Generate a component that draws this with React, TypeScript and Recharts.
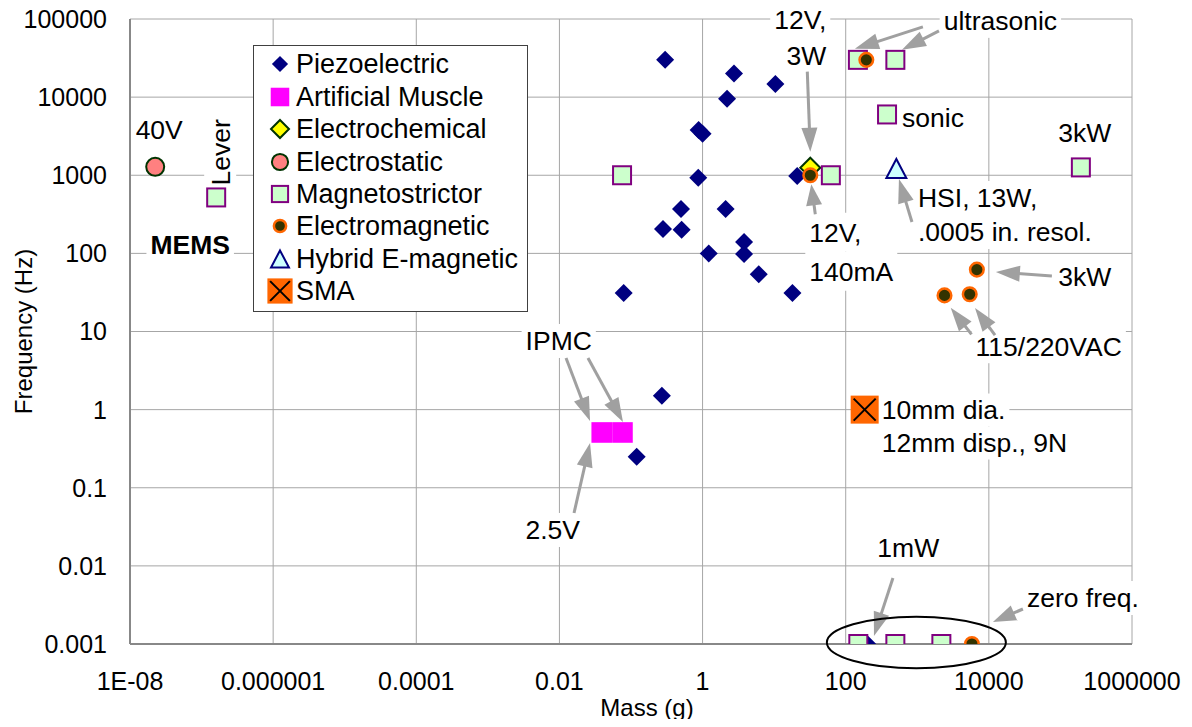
import React from "react";
import {
  ScatterChart,
  Scatter,
  XAxis,
  YAxis,
  CartesianGrid,
  Legend,
  ReferenceDot,
} from "recharts";

const FONT = '"Liberation Sans", Arial, Helvetica, sans-serif';

// mass (g) vs frequency (Hz)
const piezoelectric = [
  { mass: 0.3, freq: 30000 },
  { mass: 2.75, freq: 20000 },
  { mass: 10.4, freq: 14700 },
  { mass: 2.2, freq: 9500 },
  { mass: 0.88, freq: 3800 },
  { mass: 1.0, freq: 3400 },
  { mass: 0.87, freq: 930 },
  { mass: 21, freq: 980 },
  { mass: 0.5, freq: 370 },
  { mass: 2.1, freq: 370 },
  { mass: 0.28, freq: 205 },
  { mass: 0.51, freq: 200 },
  { mass: 3.8, freq: 140 },
  { mass: 1.22, freq: 100 },
  { mass: 3.8, freq: 98 },
  { mass: 6.1, freq: 54 },
  { mass: 0.079, freq: 31 },
  { mass: 18, freq: 31 },
  { mass: 0.27, freq: 1.5 },
  { mass: 0.12, freq: 0.25 },
  { mass: 200, freq: 0.001 },
];
const artificialMuscle = [
  { mass: 0.039, freq: 0.51 },
  { mass: 0.076, freq: 0.51 },
];
const electrochemical = [{ mass: 32, freq: 1250 }];
const electrostatic = [{ mass: 2.25e-8, freq: 1280 }];
const magnetostrictor = [
  { mass: 1.6e-7, freq: 520 },
  { mass: 0.075, freq: 1000 },
  { mass: 62, freq: 1000 },
  { mass: 148, freq: 30000 },
  { mass: 494, freq: 30000 },
  { mass: 378, freq: 6000 },
  { mass: 193000, freq: 1260 },
  { mass: 150, freq: 0.001 },
  { mass: 494, freq: 0.001 },
  { mass: 2170, freq: 0.001 },
];
const electromagnetic = [
  { mass: 194, freq: 30000 },
  { mass: 32, freq: 1000 },
  { mass: 6800, freq: 62 },
  { mass: 2400, freq: 29 },
  { mass: 5400, freq: 30 },
  { mass: 5800, freq: 0.001 },
];
const hybrid = [{ mass: 510, freq: 1220 }];
const sma = [{ mass: 184, freq: 1 }];

const xTicks = [1e-8, 1e-6, 1e-4, 1e-2, 1, 100, 1e4, 1e6];
const xTickLabels = ["1E-08", "0.000001", "0.0001", "0.01", "1", "100", "10000", "1000000"];
const yTicks = [0.001, 0.01, 0.1, 1, 10, 100, 1000, 10000, 100000];
const yTickLabels = ["0.001", "0.01", "0.1", "1", "10", "100", "1000", "10000", "100000"];

type Kind = "piezo" | "muscle" | "echem" | "estatic" | "magneto" | "emag" | "hybrid" | "sma";

const legendItems: { name: string; kind: Kind }[] = [
  { name: "Piezoelectric", kind: "piezo" },
  { name: "Artificial Muscle", kind: "muscle" },
  { name: "Electrochemical", kind: "echem" },
  { name: "Electrostatic", kind: "estatic" },
  { name: "Magnetostrictor", kind: "magneto" },
  { name: "Electromagnetic", kind: "emag" },
  { name: "Hybrid E-magnetic", kind: "hybrid" },
  { name: "SMA", kind: "sma" },
];

// text annotations, anchored on a data point, offsets in px
type Note = {
  at: [number, number];
  dx: number;
  dy: number;
  lines: string[];
  anchor?: "start" | "middle" | "end";
  gap?: number;
  bold?: boolean;
  rotate?: boolean;
};
const notes: Note[] = [
  { at: [2.25e-8, 1280], dx: 4, dy: -37, lines: ["40V"] },
  { at: [1.6e-7, 520], dx: 4, dy: -45, lines: ["Lever"], rotate: true, gap: 32 },
  { at: [1.6e-7, 520], dx: -26, dy: 47, lines: ["MEMS"], bold: true },
  { at: [32, 1250], dx: 16, dy: -148, lines: ["12V,", "3W"], anchor: "end", gap: 36 },
  { at: [32, 1000], dx: -1, dy: 57, lines: ["12V,", "140mA"], anchor: "start", gap: 39 },
  { at: [494, 30000], dx: 105, dy: -39, lines: ["ultrasonic"] },
  { at: [378, 6000], dx: 15, dy: 3.5, lines: ["sonic"], anchor: "start" },
  { at: [193000, 1260], dx: 4, dy: -35, lines: ["3kW"] },
  { at: [510, 1220], dx: 21.6, dy: 29.5, lines: ["HSI, 13W,", ".0005 in. resol."], anchor: "start", gap: 34 },
  { at: [6800, 62], dx: 108, dy: 7, lines: ["3kW"] },
  { at: [5400, 30], dx: 79, dy: 52, lines: ["115/220VAC"] },
  { at: [184, 1], dx: 17, dy: 0.4, lines: ["10mm dia.", "12mm disp., 9N"], anchor: "start", gap: 33 },
  { at: [0.039, 0.51], dx: -43, dy: -91.5, lines: ["IPMC"] },
  { at: [0.039, 0.51], dx: -49, dy: 97.5, lines: ["2.5V"] },
  { at: [200, 0.001], dx: 41, dy: -96, lines: ["1mW"] },
  { at: [5800, 0.001], dx: 111, dy: -46, lines: ["zero freq."] },
];

type Arrow = { at: [number, number]; from: [number, number]; to: [number, number] };
const arrows: Arrow[] = [
  { at: [32, 1250], from: [-3, -96], to: [0, -16] },
  { at: [32, 1000], from: [5, 39], to: [1, 9] },
  { at: [148, 30000], from: [65, -33], to: [-3, -11] },
  { at: [494, 30000], from: [43.6, -29], to: [6.6, -10] },
  { at: [510, 1220], from: [15.6, 53.5], to: [2.6, 10.5] },
  { at: [6800, 62], from: [75, 6.4], to: [19, 2.4] },
  { at: [2400, 29], from: [27, 39], to: [6.2, 12.3] },
  { at: [5400, 30], from: [25.3, 40.8], to: [5.3, 13.8] },
  { at: [0.039, 0.51], from: [-35.7, -74.5], to: [-11.7, -11.5] },
  { at: [0.076, 0.51], from: [-34.5, -74.5], to: [0.5, -10.5] },
  { at: [0.039, 0.51], from: [-27.7, 80.5], to: [-11.7, 10.5] },
  { at: [200, 0.001], from: [25.7, -66], to: [6.7, -8] },
  { at: [5800, 0.001], from: [51, -35], to: [21, -22] },
];

let measureCtx: CanvasRenderingContext2D | null = null;
function textWidth(s: string, fs: number, bold = false) {
  if (!measureCtx) measureCtx = document.createElement("canvas").getContext("2d");
  if (!measureCtx) return s.length * fs * 0.55;
  measureCtx.font = `${bold ? "bold " : ""}${fs}px ${FONT}`;
  return measureCtx.measureText(s).width;
}

function Marker({ kind, cx, cy, s = 1 }: { kind: Kind; cx: number; cy: number; s?: number }) {
  switch (kind) {
    case "piezo": {
      const h = 9 * s;
      return (
        <polygon
          points={`${cx},${cy - h} ${cx + h},${cy} ${cx},${cy + h} ${cx - h},${cy}`}
          fill="#000080"
        />
      );
    }
    case "muscle": {
      const h = 10.3 * s;
      return <rect x={cx - h} y={cy - h} width={2 * h} height={2 * h} fill="#ff00ff" />;
    }
    case "echem": {
      const h = 10 * s;
      return (
        <polygon
          points={`${cx},${cy - h} ${cx + h},${cy} ${cx},${cy + h} ${cx - h},${cy}`}
          fill="#ffff00"
          stroke="#003300"
          strokeWidth={2}
        />
      );
    }
    case "estatic":
      return <circle cx={cx} cy={cy} r={9 * s} fill="#ff8080" stroke="#003300" strokeWidth={2} />;
    case "magneto": {
      const h = 9 * s;
      return (
        <rect x={cx - h} y={cy - h} width={2 * h} height={2 * h} fill="#ccffcc" stroke="#800080" strokeWidth={2} />
      );
    }
    case "emag":
      return <circle cx={cx} cy={cy} r={6.8 * s} fill="#333300" stroke="#ff6600" strokeWidth={2.5} />;
    case "hybrid": {
      const h = 9.5 * s;
      return (
        <polygon
          points={`${cx},${cy - h} ${cx + h * 1.05},${cy + h} ${cx - h * 1.05},${cy + h}`}
          fill="#ccffff"
          stroke="#000080"
          strokeWidth={2}
        />
      );
    }
    case "sma": {
      const h = 14 * s;
      const k = h - 3 * s;
      return (
        <g>
          <rect x={cx - h} y={cy - h} width={2 * h} height={2 * h} fill="#ff6600" />
          <line x1={cx - k} y1={cy - k} x2={cx + k} y2={cy + k} stroke="#000" strokeWidth={2} />
          <line x1={cx - k} y1={cy + k} x2={cx + k} y2={cy - k} stroke="#000" strokeWidth={2} />
        </g>
      );
    }
  }
  return null;
}

function NoteShape({ cx, cy, note }: { cx: number; cy: number; note: Note }) {
  const fs = 26.5;
  const gap = note.gap ?? 34;
  const anchor = note.anchor ?? "middle";
  const x = cx + note.dx;
  const y0 = cy + note.dy;
  const rows = note.lines.map((line, i) => {
    const y = y0 + i * gap;
    const w = textWidth(line, fs, note.bold);
    const left = anchor === "start" ? x : anchor === "end" ? x - w : x - w / 2;
    return { line, y, w, left };
  });
  const body = (
    <g>
      {rows.map((r, i) => (
        <rect key={"b" + i} x={r.left - 4} y={r.y - gap / 2} width={r.w + 8} height={gap} fill="#fff" />
      ))}
      {rows.map((r, i) => (
        <text
          key={"t" + i}
          x={x}
          y={r.y + 0.355 * fs}
          textAnchor={anchor}
          fontSize={fs}
          fontFamily={FONT}
          fontWeight={note.bold ? "bold" : "normal"}
          fill="#000"
        >
          {r.line}
        </text>
      ))}
    </g>
  );
  if (note.rotate) return <g transform={`rotate(-90 ${x} ${y0})`}>{body}</g>;
  return body;
}

function ArrowShape({ cx, cy, arrow }: { cx: number; cy: number; arrow: Arrow }) {
  const tx = cx + arrow.from[0];
  const ty = cy + arrow.from[1];
  const hx = cx + arrow.to[0];
  const hy = cy + arrow.to[1];
  const len = Math.hypot(hx - tx, hy - ty) || 1;
  const ux = (hx - tx) / len;
  const uy = (hy - ty) / len;
  const L = Math.min(24, len * 0.7);
  const W = 8;
  const bx = hx - ux * L;
  const by = hy - uy * L;
  const color = "#a0a0a0";
  return (
    <g>
      <line x1={tx} y1={ty} x2={bx + ux * 2} y2={by + uy * 2} stroke={color} strokeWidth={3} />
      <polygon
        points={`${hx},${hy} ${bx - uy * W},${by + ux * W} ${bx + uy * W},${by - ux * W}`}
        fill={color}
      />
    </g>
  );
}

function LegendBox() {
  return (
    <div
      style={{
        position: "relative",
        width: 275,
        height: 267,
        boxSizing: "border-box",
        border: "1.5px solid #404040",
        background: "#fff",
        fontFamily: FONT,
        fontSize: 27,
        color: "#000",
      }}
    >
      {legendItems.map((it, i) => (
        <div
          key={it.name}
          style={{
            position: "absolute",
            left: 0,
            top: 18.3 + i * 32.4 - 16,
            height: 32,
            lineHeight: "32px",
            whiteSpace: "nowrap",
          }}
        >
          <svg width={42} height={32} style={{ position: "absolute", left: 0, top: 0 }}>
            <Marker kind={it.kind} cx={26} cy={16} s={0.9} />
          </svg>
          <span style={{ position: "absolute", left: 42, top: 0 }}>{it.name}</span>
        </div>
      ))}
    </div>
  );
}

const xFmt = (v: number) => {
  const i = xTicks.findIndex((t) => Math.abs(t - v) <= t * 1e-6);
  return i >= 0 ? xTickLabels[i] : String(v);
};
const yFmt = (v: number) => {
  const i = yTicks.findIndex((t) => Math.abs(t - v) <= t * 1e-6);
  return i >= 0 ? yTickLabels[i] : String(v);
};

const series: { data: { mass: number; freq: number }[]; kind: Kind; name: string }[] = [
  { data: piezoelectric, kind: "piezo", name: "Piezoelectric" },
  { data: artificialMuscle, kind: "muscle", name: "Artificial Muscle" },
  { data: electrochemical, kind: "echem", name: "Electrochemical" },
  { data: electrostatic, kind: "estatic", name: "Electrostatic" },
  { data: magnetostrictor, kind: "magneto", name: "Magnetostrictor" },
  { data: electromagnetic, kind: "emag", name: "Electromagnetic" },
  { data: hybrid, kind: "hybrid", name: "Hybrid E-magnetic" },
  { data: sma, kind: "sma", name: "SMA" },
];

export default function App() {
  return (
    <div style={{ fontFamily: FONT, marginTop: -8, marginBottom: -8 }}>
      <ScatterChart width={1176} height={727} margin={{ top: 19, right: 52, bottom: 43, left: 0 }}>
        <CartesianGrid stroke="#a6a6a6" strokeWidth={1} />
        <XAxis
          type="number"
          dataKey="mass"
          scale="log"
          domain={[1e-8, 1e6]}
          ticks={xTicks}
          interval={0}
          allowDataOverflow
          tickFormatter={xFmt}
          tickLine={false}
          tickMargin={22}
          height={40}
          axisLine={{ stroke: "#888", strokeWidth: 2 }}
          tick={{ fill: "#000", fontSize: 25, fontFamily: FONT }}
          label={{ value: "Mass (g)", position: "bottom", offset: 15, dx: 16, fill: "#000", fontSize: 24, fontFamily: FONT }}
        />
        <YAxis
          type="number"
          dataKey="freq"
          scale="log"
          domain={[0.001, 100000]}
          ticks={yTicks}
          interval={0}
          allowDataOverflow
          tickFormatter={yFmt}
          tickLine={false}
          tickMargin={17}
          width={122}
          axisLine={{ stroke: "#888", strokeWidth: 2 }}
          tick={{ fill: "#000", fontSize: 25, fontFamily: FONT }}
          label={{
            value: "Frequency (Hz)",
            angle: -90,
            position: "insideLeft",
            offset: 15,
            fill: "#000",
            fontSize: 24,
            fontFamily: FONT,
            style: { textAnchor: "middle" },
          }}
        />
        <Legend
          layout="vertical"
          align="center"
          verticalAlign="middle"
          content={() => <LegendBox />}
          wrapperStyle={{ left: 245, top: 45, width: 275, height: 267 }}
        />
        {notes.map((n, i) => (
          <ReferenceDot
            key={"note" + i}
            x={n.at[0]}
            y={n.at[1]}
            r={0}
            ifOverflow="visible"
            shape={(p: any) => <NoteShape cx={p.cx} cy={p.cy} note={n} />}
          />
        ))}
        {arrows.map((a, i) => (
          <ReferenceDot
            key={"arrow" + i}
            x={a.at[0]}
            y={a.at[1]}
            r={0}
            ifOverflow="visible"
            shape={(p: any) => <ArrowShape cx={p.cx} cy={p.cy} arrow={a} />}
          />
        ))}
        <ReferenceDot
          x={494}
          y={0.001}
          r={0}
          ifOverflow="visible"
          shape={(p: any) => (
            <ellipse cx={p.cx + 21} cy={p.cy - 1.5} rx={89.5} ry={25.8} fill="none" stroke="#000" strokeWidth={2} />
          )}
        />
        {series.map((s) => (
          <Scatter
            key={s.name}
            name={s.name}
            data={s.data}
            isAnimationActive={false}
            shape={(p: any) => <Marker kind={s.kind} cx={p.cx} cy={p.cy} />}
          />
        ))}
      </ScatterChart>
    </div>
  );
}
